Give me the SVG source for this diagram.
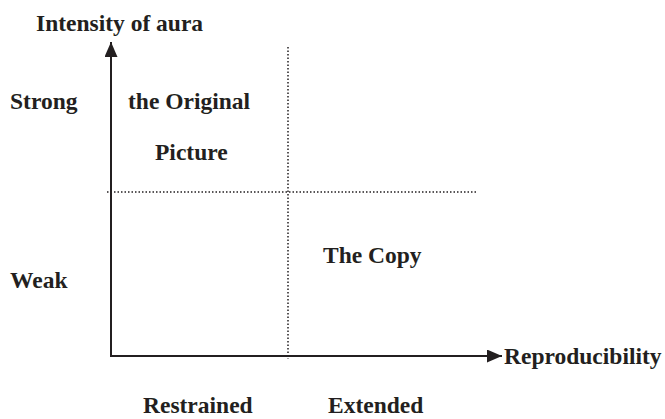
<svg xmlns="http://www.w3.org/2000/svg" width="665" height="419" viewBox="0 0 665 419">
  <style>
    .lbl { font-family: "Liberation Serif", "Times New Roman", serif; font-weight: bold; font-size: 23.5px; fill: #231f20; }
    .axis { stroke: #231f20; stroke-width: 2; fill: none; }
    .grid { stroke: #231f20; stroke-width: 1.5; stroke-dasharray: 1.5 2; fill: none; }
  </style>
  <defs>
    <marker id="arrow" viewBox="0 0 15 13" refX="15" refY="6.5" markerWidth="15" markerHeight="13" markerUnits="userSpaceOnUse" orient="auto">
      <path d="M0,0 L15,6.5 L0,13 Z" fill="#231f20"/>
    </marker>
  </defs>
  <rect width="665" height="419" fill="#ffffff"/>

  <g id="connectors">
    <!-- quadrant dividers -->
    <line class="grid" x1="288" y1="47" x2="288" y2="359"/>
    <line class="grid" x1="107" y1="192" x2="477" y2="192"/>
    <!-- axes -->
    <line id="y-axis" class="axis" x1="111" y1="357" x2="111" y2="42" marker-end="url(#arrow)"/>
    <line id="x-axis" class="axis" x1="110" y1="356" x2="502" y2="356" marker-end="url(#arrow)"/>
  </g>

  <g id="axis-title-y"><text class="lbl" x="36" y="31">Intensity of aura</text></g>
  <g id="axis-title-x"><text class="lbl" x="504" y="364">Reproducibility</text></g>
  <g id="level-strong"><text class="lbl" x="10" y="109">Strong</text></g>
  <g id="level-weak"><text class="lbl" x="10" y="288">Weak</text></g>
  <g id="original"><text class="lbl" x="128" y="109">the Original</text><text class="lbl" x="155" y="160">Picture</text></g>
  <g id="copy"><text class="lbl" x="323" y="263">The Copy</text></g>
  <g id="level-restrained"><text class="lbl" x="143" y="413">Restrained</text></g>
  <g id="level-extended"><text class="lbl" x="328" y="413">Extended</text></g>
</svg>
